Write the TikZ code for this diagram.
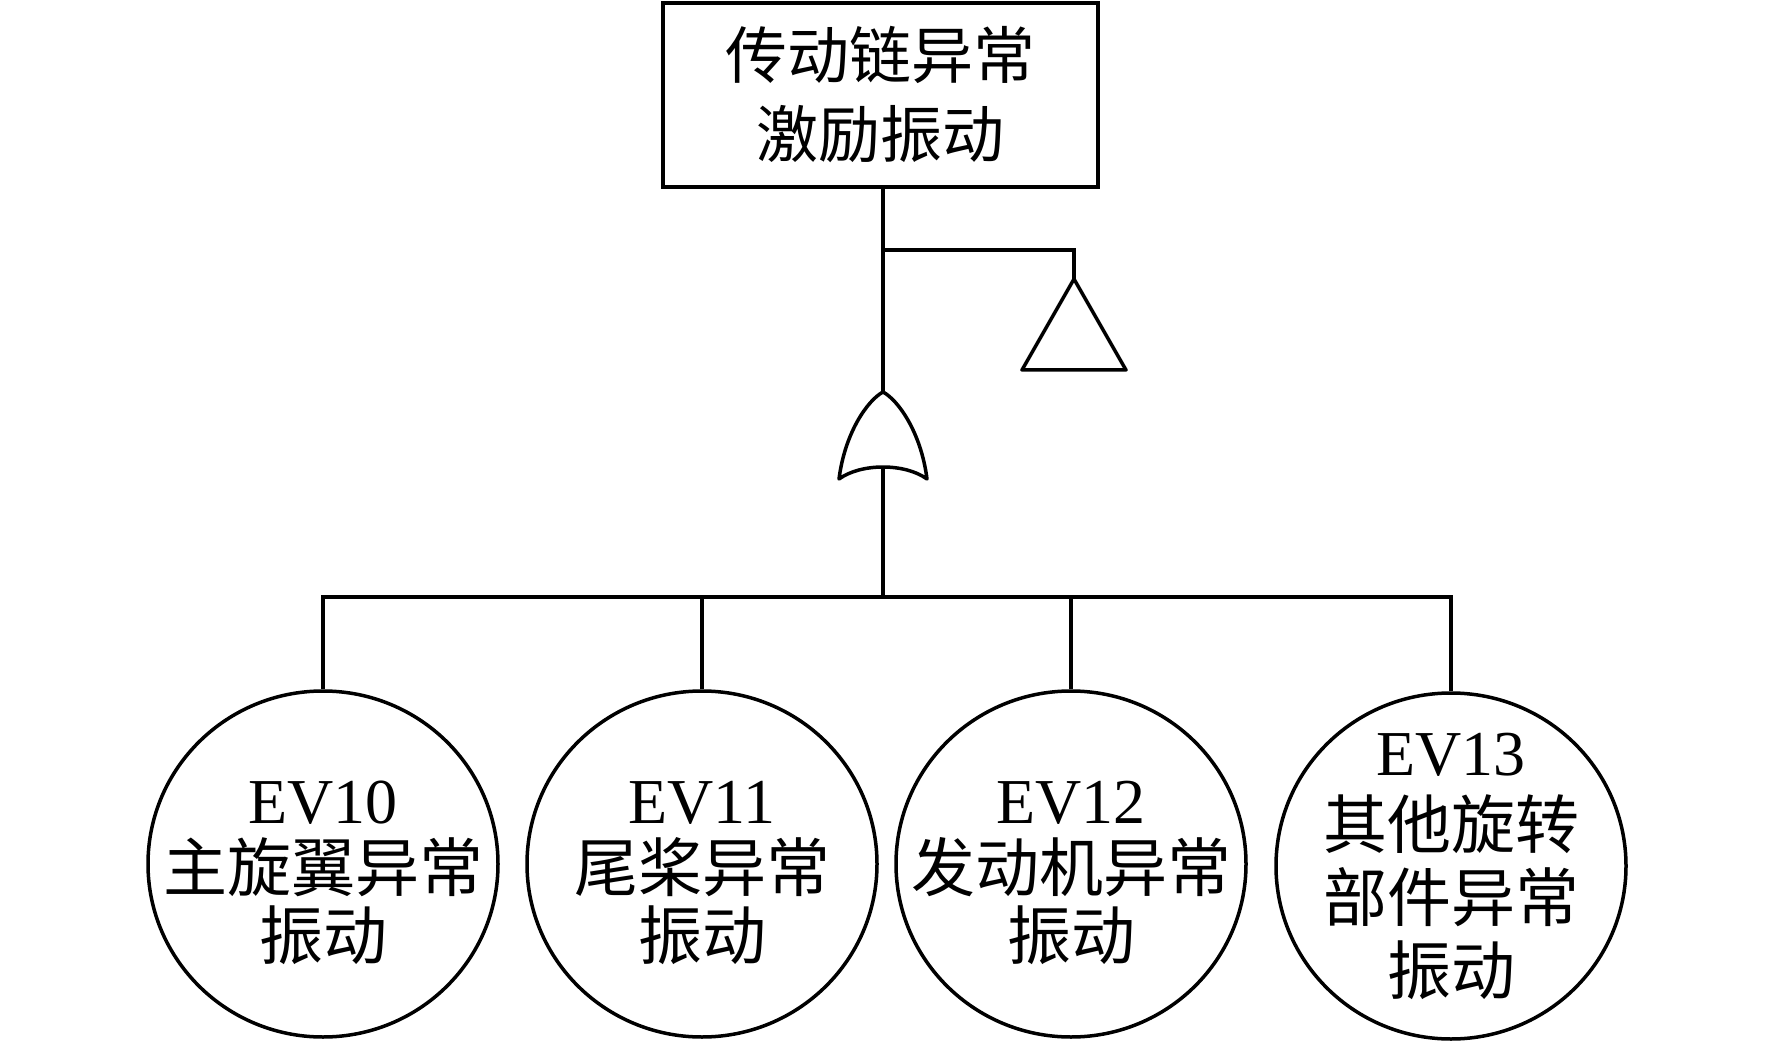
\documentclass[tikz,border=0pt]{standalone}
\usepackage{fontspec}
\setmainfont{Liberation Serif}
\newfontfamily\cjk{Noto Sans CJK SC}
\usetikzlibrary{shapes.geometric}
\begin{document}
\begin{tikzpicture}[x=1pt,y=-1pt,line width=3.5pt,
  topbox/.style={draw,rectangle,minimum width=435pt,minimum height=184pt,inner sep=0pt,align=center,font=\fontsize{62}{79}\selectfont},
  event/.style={draw,ellipse,minimum width=350pt,minimum height=346pt,inner sep=0pt},
  evtext/.style={inner sep=0pt,align=center,font=\fontsize{64}{68}\selectfont},
  evtext4/.style={evtext,font=\fontsize{64}{73}\selectfont},
  gate/.style={draw,line join=round},
  conn/.style={draw}]
\useasboundingbox (0,0) rectangle (1772,1048);
% top event
\node[topbox] (top) at (880.5,95) {{\cjk 传动链异常}\\{\cjk 激励振动}};
% OR gate
\coordinate (gtop) at (883,392);
\coordinate (gbot) at (883,467);
\coordinate (gl) at (839,479);
\coordinate (gr) at (927,479);
\draw[gate] (gtop) .. controls (868,400) and (845,432) .. (gl)
  .. controls (861,463) and (905,463) .. (gr)
  .. controls (921,432) and (898,400) .. (gtop) -- cycle;
% transfer triangle
\coordinate (branch) at (883,250);
\coordinate (tri) at (1074,279);
\coordinate (trc) at (1074,250);
\draw[gate] (tri) -- (1126,370) -- (1022,370) -- cycle;
% events
\node[event] (e10) at (323,864) {};
\node[event] (e11) at (702,864) {};
\node[event] (e12) at (1071,864) {};
\node[event] (e13) at (1451,866) {};
\node[evtext] (t10) at (323,873) {{EV10}\\{\cjk 主旋翼异常}\\{\cjk 振动}};
\node[evtext] (t11) at (702,873) {{EV11}\\{\cjk 尾桨异常}\\{\cjk 振动}};
\node[evtext] (t12) at (1071,873) {{EV12}\\{\cjk 发动机异常}\\{\cjk 振动}};
\node[evtext4] (t13) at (1451,866) {{EV13}\\{\cjk 其他旋转}\\{\cjk 部件异常}\\{\cjk 振动}};
% connectors
\coordinate (bus) at (883,597);
\draw[conn] (gtop |- top.south) -- (gtop);
\draw[conn] (branch) -- (trc) -- (tri);
\draw[conn] (gbot) -- (bus);
\draw[conn] (e10.north) |- (bus);
\draw[conn] (e11.north) |- (bus);
\draw[conn] (e12.north) |- (bus);
\draw[conn] (e13.north) |- (bus);
\end{tikzpicture}
\end{document}
